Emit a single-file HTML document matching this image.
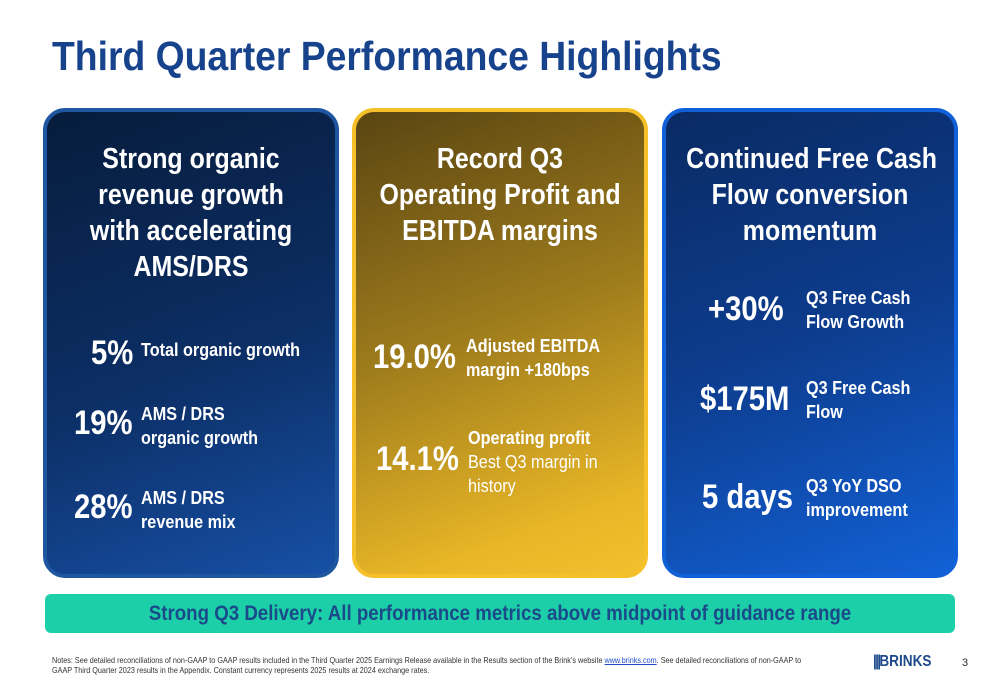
<!DOCTYPE html>
<html><head><meta charset="utf-8"><style>
*{margin:0;padding:0;box-sizing:border-box}
body{width:1000px;height:685px;background:#fff;position:relative;overflow:hidden;font-family:"Liberation Sans",sans-serif;font-weight:bold}
.a{position:absolute;white-space:nowrap;transform-origin:left top}
.card{position:absolute;top:108px;width:296px;height:470px;border-radius:22px;border:4px solid}
.h{position:absolute;left:0;width:100%;text-align:center;color:#fff;font-size:29px;line-height:36px;transform:scaleX(.86);transform-origin:center top;white-space:nowrap}
.big{color:#fff;font-size:34px;transform:scaleX(.86)}
.sm{color:#fff;font-size:18px;line-height:24px;transform:scaleX(.9)}
</style></head><body>
<div class="a" style="left:52px;top:33px;font-size:41px;color:#17428c;transform:scaleX(.91)">Third Quarter Performance Highlights</div>

<div class="card" style="left:43px;border-color:#1e56a0;background:linear-gradient(160deg,#071c3c 0%,#0c2f66 55%,#1750a6 100%)">
 <div class="h" style="top:29px">Strong organic<br>revenue growth<br>with accelerating<br>AMS/DRS</div>
 <div class="a big" style="left:44px;top:222px">5%</div>
 <div class="a sm" style="left:94px;top:226px">Total organic growth</div>
 <div class="a big" style="left:27px;top:292px">19%</div>
 <div class="a sm" style="left:94px;top:290px">AMS / DRS<br>organic growth</div>
 <div class="a big" style="left:27px;top:376px">28%</div>
 <div class="a sm" style="left:94px;top:374px">AMS / DRS<br>revenue mix</div>
</div>

<div class="card" style="left:352px;border-color:#f5c02a;background:linear-gradient(160deg,#5a4512 0%,#9c7a1c 45%,#e7b526 85%,#f3c12e 100%)">
 <div class="h" style="top:29px">Record Q3<br>Operating Profit and<br>EBITDA margins</div>
 <div class="a big" style="left:17px;top:226px">19.0%</div>
 <div class="a sm" style="left:110px;top:222px">Adjusted EBITDA<br>margin +180bps</div>
 <div class="a big" style="left:20px;top:328px">14.1%</div>
 <div class="a sm" style="left:112px;top:314px">Operating profit<br><span style="font-weight:normal">Best Q3 margin in<br>history</span></div>
</div>

<div class="card" style="left:662px;border-color:#1060d8;background:linear-gradient(160deg,#0a2a63 0%,#0d3d8f 50%,#1261d6 100%)">
 <div class="h" style="top:29px">Continued Free Cash<br>Flow conversion<br>momentum</div>
 <div class="a big" style="left:42px;top:178px">+30%</div>
 <div class="a sm" style="left:140px;top:174px">Q3 Free Cash<br>Flow Growth</div>
 <div class="a big" style="left:34px;top:268px">$175M</div>
 <div class="a sm" style="left:140px;top:264px">Q3 Free Cash<br>Flow</div>
 <div class="a big" style="left:36px;top:366px">5 days</div>
 <div class="a sm" style="left:140px;top:362px">Q3 YoY DSO<br>improvement</div>
</div>

<div class="a" style="left:45px;top:594px;width:910px;height:39px;border-radius:6px;background:#1dcfa8;"></div>
<div class="a" style="left:45px;top:594px;width:910px;height:39px;color:#1a4a8a;font-size:21px;line-height:39px;text-align:center;transform:scaleX(.89);transform-origin:center top">Strong Q3 Delivery: All performance metrics above midpoint of guidance range</div>

<div class="a" style="left:52px;top:655px;font-weight:normal;font-size:8.5px;line-height:10px;color:#333;transform:scaleX(.85)">Notes: See detailed reconciliations of non-GAAP to GAAP results included in the Third Quarter 2025 Earnings Release available in the Results section of the Brink’s website <span style="color:#1f4fc8;text-decoration:underline">www.brinks.com</span>. See detailed reconciliations of non-GAAP to<br>GAAP Third Quarter 2023 results in the Appendix. Constant currency represents 2025 results at 2024 exchange rates.</div>
<div class="a" style="left:873px;top:653px;font-size:16px;color:#1e4a8c;transform:scaleX(.85)"><span style="letter-spacing:-2px">|||</span>BRINKS</div>
<div class="a" style="left:962px;top:657px;font-weight:normal;font-size:11px;color:#333">3</div>
</body></html>
